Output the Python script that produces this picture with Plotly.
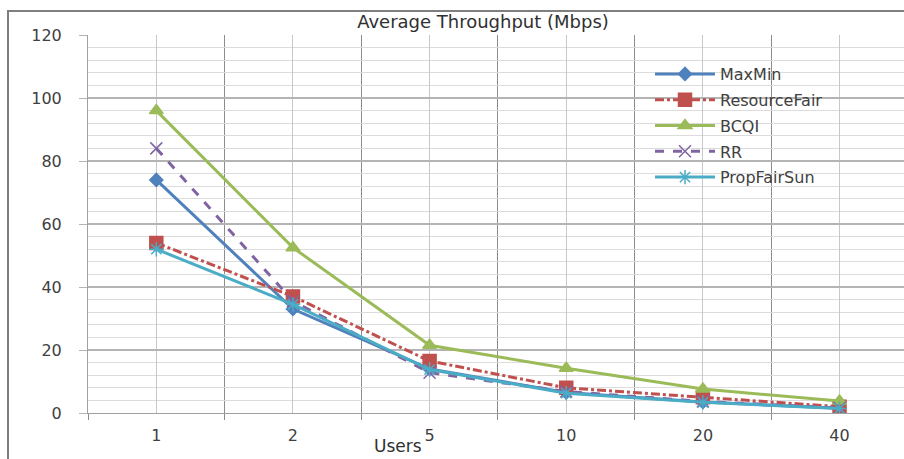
import plotly.graph_objects as go

users = ["1", "2", "5", "10", "20", "40"]
maxmin = [74, 33, 14, 6.5, 3.5, 1.5]
resourcefair = [54, 37, 16.5, 8, 5, 2]
bcqi = [96, 52.5, 21.5, 14.2, 7.6, 3.8]
rr = [84, 35.5, 12.8, 6.8, 3.7, 1.6]
propfairsun = [52, 34.5, 13.8, 6.3, 3.4, 1.4]
y_ticks = [0, 20, 40, 60, 80, 100, 120]

xpos = list(range(len(users)))

series = [
    ("MaxMin", maxmin, "#4F81BD", "solid", "diamond", 10),
    ("ResourceFair", resourcefair, "#C0504D", "dashdot", "square", 13),
    ("BCQI", bcqi, "#9BBB59", "solid", "triangle-up", 12),
    ("RR", rr, "#8064A2", "dash", "x-thin-open", 12),
    ("PropFairSun", propfairsun, "#4BACC6", "solid", "asterisk-open", 12),
]

fig = go.Figure()
for name, vals, color, dash, sym, size in series:
    fig.add_trace(go.Scatter(
        x=xpos, y=vals, name=name, mode="lines+markers",
        line=dict(color=color, width=3, dash=dash),
        marker=dict(symbol=sym, size=size, color=color,
                    line=dict(color=color, width=1.5)),
        legendgroup=name,
    ))

W, H = 904, 459
L, R, T, B = 88, 0, 35, 46
pw = W - L - R
ph = H - T - B

fig.update_layout(
    width=W, height=H,
    margin=dict(l=L, r=R, t=T, b=B),
    paper_bgcolor="white", plot_bgcolor="white",
    font=dict(family="DejaVu Sans", size=16, color="#404040"),
    showlegend=True,
    legend=dict(x=(650 - L) / pw, y=(413 - 57) / ph, xanchor="left", yanchor="top",
                bgcolor="rgba(0,0,0,0)", font=dict(size=16, color="#404040"),
                tracegroupgap=2, itemwidth=60),
    title=dict(text="Average Throughput (Mbps)", x=(483 - L) / pw, xref="paper",
               xanchor="center", y=1 - 22 / H, yanchor="middle",
               font=dict(size=18, color="#303030")),
)

fig.update_xaxes(
    range=[-0.5, (904 - 156) / 136.7], tickvals=xpos, ticktext=users,
    showgrid=True, gridcolor="#c8c8c8", gridwidth=1,
    showline=True, linecolor="#a0a0a0", linewidth=1,
    ticks="", zeroline=False,
    minor=dict(tick0=0.5, dtick=1, showgrid=True, gridcolor="#8c8c8c",
               ticks="outside", ticklen=6, tickcolor="#8c8c8c", gridwidth=1),
    ticklabelstandoff=8,
)
fig.update_yaxes(
    range=[0, 120], tickvals=y_ticks,
    showgrid=True, gridcolor="#b4b4b4", gridwidth=1.5,
    showline=True, linecolor="#a0a0a0", linewidth=1,
    ticks="outside", ticklen=8, tickcolor="#b4b4b4", zeroline=False,
    minor=dict(dtick=4, showgrid=True, gridcolor="#dcdcdc", gridwidth=1),
    ticklabelstandoff=14,
)

fig.add_annotation(text="Users", x=(398 - L) / pw, y=(413 - 446) / ph,
                   xref="paper", yref="paper", showarrow=False,
                   xanchor="center", yanchor="middle",
                   font=dict(size=17, color="#303030"))

fig.add_shape(type="rect", xref="paper", yref="paper",
              x0=(8 - L) / pw, x1=1.05, y0=-0.3, y1=(413 - 11) / ph,
              line=dict(color="#7f7f7f", width=2), layer="above")

fig.write_html("out.html")
